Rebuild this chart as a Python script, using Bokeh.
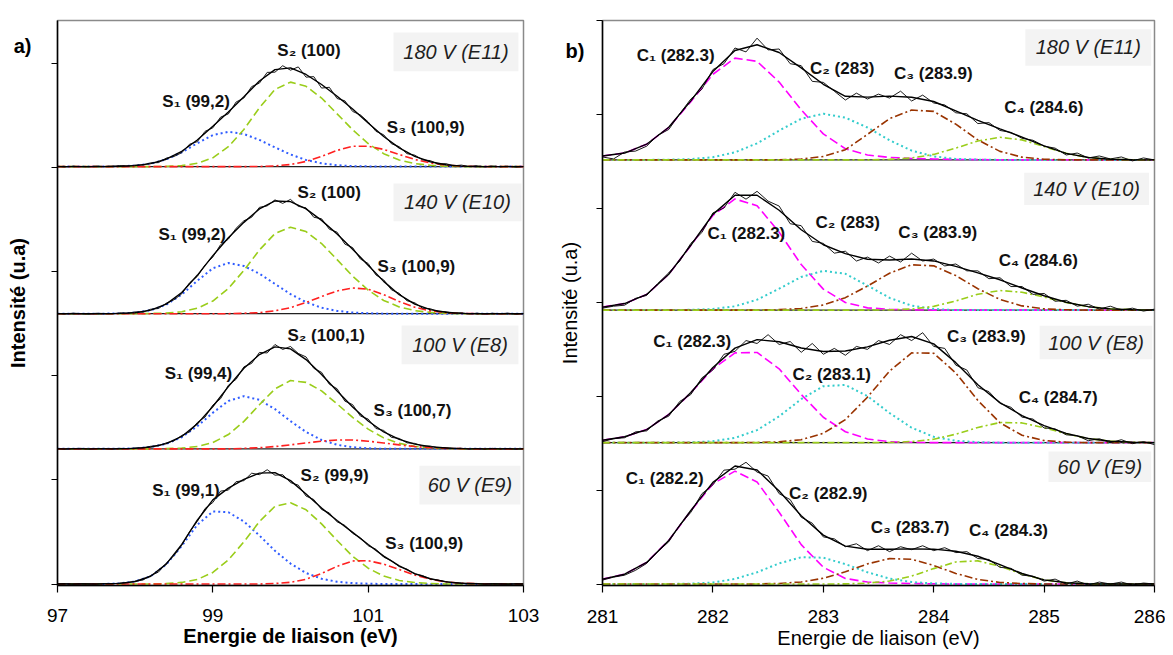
from bokeh.plotting import figure
from bokeh.layouts import row
from bokeh.models import Range1d, FixedTicker, Span
from bokeh.core.properties import value
from bokeh.embed import file_html
from bokeh.resources import INLINE

FONT_NAME = "Liberation Sans"
FONT = value(FONT_NAME)

# ======================= DATA : panel a) S 2p =======================
s_energy = [round(97.0 + 0.2 * i, 1) for i in range(31)]        # component / fit grid (eV)
s_energy_meas = [round(97.0 + 0.1 * i, 1) for i in range(61)]   # measured spectrum grid (eV)
s_samples = ["180 V (E11)", "140 V (E10)", "100 V (E8)", "60 V (E9)"]
s_peak_labels = [
    ["S₁ (99,2)", "S₂ (100)", "S₃ (100,9)"],
    ["S₁ (99,2)", "S₂ (100)", "S₃ (100,9)"],
    ["S₁ (99,4)", "S₂ (100,1)", "S₃ (100,7)"],
    ["S₁ (99,1)", "S₂ (99,9)", "S₃ (100,9)"],
]

s1_E11 = [0, 0, 0, 0, 0.3, 1, 3, 7.2, 14.4, 23.5,
          31.7, 35, 32.8, 26.8, 19.3, 12.2, 6.7, 3.3, 1.4, 0.5,
          0.2, 0, 0, 0, 0, 0, 0, 0, 0, 0, 0]
s2_E11 = [0, 0, 0, 0, 0, 0, 0, 0.2, 1, 3.3,
          8.8, 20, 37.4, 59.2, 77.6, 85, 80.8, 69, 53.1, 37,
          23.2, 13, 6.6, 3.1, 1.3, 0.4, 0, 0, 0, 0, 0]
s3_E11 = [0, 0, 0, 0, 0, 0, 0, 0, 0, 0,
          0, 0, 0, 0.1, 0.7, 2.1, 5.2, 10.3, 16.3, 20.4,
          20.5, 17.3, 12.2, 7.2, 3.6, 1.5, 0.5, 0.1, 0, 0, 0]
meas_S_E11 = [0.2, -0.3, 0.4, 0, -0.2, 0.5, 0.1, 0.3, 0.9, 0.4,
              1.5, 1.6, 3.8, 4, 8.5, 10.2, 14, 22.5, 25.1, 35.5,
              39, 49.8, 53, 65, 69, 80.5, 84, 94.8, 95, 101.5,
              97, 100.3, 90, 90.5, 79, 79.8, 68.5, 66.2, 55.5, 52,
              45, 35.5, 32, 23, 20, 13, 11.5, 6.8, 6, 2.5,
              3, 0.8, 1.5, 0, 0.8, -0.3, 0.6, -0.2, 0.4, -0.5,
              0.1]

s1_E10 = [0, 0, 0, 0, 0.3, 1, 3.4, 9, 19.3, 33.1,
          45.7, 51, 48, 40.2, 29.9, 19.7, 11.6, 6, 2.8, 1.1,
          0.4, 0, 0, 0, 0, 0, 0, 0, 0, 0, 0]
s2_E10 = [0, 0, 0, 0, 0, 0, 0.2, 0.6, 2, 5.5,
          12.7, 25.4, 43.5, 64.1, 80.6, 87, 82.6, 70.6, 54.4, 37.8,
          23.8, 13.3, 6.8, 3.1, 1.3, 0.4, 0, 0, 0, 0, 0]
s3_E10 = [0, 0, 0, 0, 0, 0, 0, 0, 0, 0,
          0, 0, 0.4, 1.1, 2.9, 6.1, 11.2, 17.3, 22.9, 25.9,
          24.6, 19.2, 12.3, 6.5, 2.8, 1, 0.3, 0, 0, 0, 0]
meas_S_E10 = [0.3, -0.2, 0.5, 0.1, -0.3, 0.4, 0.2, -0.1, 0.8, 0.3,
              1.8, 1.5, 4.5, 5.2, 10.5, 14, 20, 31, 37.5, 49,
              57, 69.5, 75, 86, 93.5, 97, 107, 108.5, 114.5, 111,
              115, 108, 106.5, 97, 95.5, 85, 82, 70, 66.5, 55,
              50.5, 39, 34, 24, 20.5, 13, 11, 5.5, 5, 2,
              2, 0.3, 1, -0.2, 0.5, -0.3, 0.4, 0, 0.5, -0.4,
              0.2]

s1_E8 = [0, 0, 0, 0, 0.1, 0.5, 1.8, 5, 11.7, 22.8,
         36.3, 48.2, 53, 49.3, 40, 27.9, 17, 8.9, 4.1, 1.7,
         0.5, 0.1, 0, 0, 0, 0, 0, 0, 0, 0, 0]
s2_E8 = [0, 0, 0, 0, 0, 0, 0, 0.2, 0.8, 2.3,
         6.3, 14.4, 27.6, 44.4, 60.3, 68.7, 66.9, 58.3, 45.2, 31.6,
         19.8, 11, 5.5, 2.5, 1, 0.3, 0, 0, 0, 0, 0]
s3_E8 = [0, 0, 0, 0, 0, 0, 0, 0, 0, 0,
         0, 0, 0.5, 1.2, 2.3, 4, 5.9, 7.7, 8.9, 8.9,
         7.7, 5.9, 4, 2.3, 1.2, 0.5, 0.2, 0, 0, 0, 0]
meas_S_E8 = [0.2, -0.3, 0.3, 0.5, -0.2, 0.2, 0.4, -0.1, 0.5, 0.2,
             1, 0.8, 2.6, 3, 6, 8, 13.5, 17, 26.5, 32,
             44, 50.5, 64, 70, 82.5, 86, 97, 96.5, 105, 100,
             103, 96, 92.5, 81, 77, 65, 60.5, 48, 44.5, 33,
             30, 20.5, 18.5, 11.5, 10.5, 6, 5.5, 2.8, 2.8, 1,
             1.2, 0.2, 0.6, -0.2, 0.4, -0.3, 0.5, 0, 0.3, -0.3,
             0.1]

s1_E9 = [0, 0, 0, 0.1, 0.6, 2.5, 7.8, 19.6, 38.3, 59.6,
         73, 72.2, 62.9, 48.8, 33.4, 20.6, 11.1, 5.3, 2.3, 0.9,
         0.3, 0, 0, 0, 0, 0, 0, 0, 0, 0, 0]
s2_E9 = [0, 0, 0, 0, 0, 0, 0, 0.4, 1.6, 4.6,
         11.6, 24.3, 42.4, 62.8, 78.2, 81.7, 74.7, 60.5, 43.8, 27.9,
         15.9, 8, 3.6, 1.5, 0.5, 0, 0, 0, 0, 0, 0]
s3_E9 = [0, 0, 0, 0, 0, 0, 0, 0, 0, 0,
         0, 0, 0, 0, 0.5, 1.7, 4.8, 10.6, 17.8, 23.2,
         23.5, 20, 14.6, 9, 4.8, 2.1, 0.8, 0.3, 0, 0, 0]
meas_S_E9 = [0.1, 0.4, -0.2, 0.3, 0.1, -0.2, 0.5, 0.2, 0.9, 1.2,
             2.8, 4, 8.5, 12, 21, 28.5, 39, 52.5, 63, 76,
             82, 93.5, 94.5, 103, 104, 111.5, 110, 115, 109.5, 110,
             102, 99.5, 88.5, 85, 75, 71.5, 62.5, 59, 51, 46.5,
             38.5, 35, 27, 23.5, 17.5, 15, 10, 8.5, 5, 4,
             2.5, 1.2, 1, 0.3, 0.6, -0.2, 0.4, 0.1, -0.3, 0.3,
             0]

s_components = [[s1_E11, s2_E11, s3_E11], [s1_E10, s2_E10, s3_E10],
                [s1_E8, s2_E8, s3_E8], [s1_E9, s2_E9, s3_E9]]
s_measured = [meas_S_E11, meas_S_E10, meas_S_E8, meas_S_E9]

# ======================= DATA : panel b) C 1s =======================
c_energy = [round(281.0 + 0.2 * i, 1) for i in range(26)]
c_energy_meas = [round(281.0 + 0.1 * i, 1) for i in range(51)]
c_samples = ["180 V (E11)", "140 V (E10)", "100 V (E8)", "60 V (E9)"]
c_peak_labels = [
    ["C₁ (282.3)", "C₂ (283)", "C₃ (283.9)", "C₄ (284.6)"],
    ["C₁ (282.3)", "C₂ (283)", "C₃ (283.9)", "C₄ (284.6)"],
    ["C₁ (282.3)", "C₂ (283.1)", "C₃ (283.9)", "C₄ (284.7)"],
    ["C₁ (282.2)", "C₂ (282.9)", "C₃ (283.7)", "C₄ (284.3)"],
]

c1_E11 = [4, 7, 16, 33, 59.3, 87.2, 103.7, 100.4, 79.3, 51,
          26.5, 11.4, 5, 2.5, 1.5, 1, 0.5, 0.3, 0, 0,
          0, 0, 0, 0, 0, 0]
c2_E11 = [0, 0, 0, 0.2, 0.8, 2.8, 7.7, 16.9, 29.9, 41.9,
          47, 43, 33, 20, 9.5, 3.5, 1, 0.3, 0, 0,
          0, 0, 0, 0, 0, 0]
c3_E11 = [0, 0, 0, 0, 0, 0, 0, 0, 0.2, 0.9,
          3.5, 10.4, 26, 42, 50.8, 49.4, 36.4, 20.4, 8.7, 2.8,
          0.7, 0, 0, 0, 0, 0]
c4_E11 = [0, 0, 0, 0, 0, 0, 0, 0, 0, 0,
          0, 0, 0, 0.5, 2, 5.6, 12, 19.3, 23, 20.4,
          13.6, 6.7, 2.5, 0.7, 0.2, 0]
meas_C_E11 = [3, 1, 8, 9, 14, 25, 31, 47, 62, 72,
              92, 98, 114, 110, 124, 112, 113, 98, 96, 80,
              79, 70, 61, 68, 62, 67, 63, 70, 60, 66,
              58, 56, 48, 47, 37, 38, 30, 28, 22, 20,
              14, 12, 5, 7, 2, 4, 1, 3, -1, 2,
              0]

c1_E10 = [3.1, 6.7, 16, 36.5, 65.8, 96.4, 113.2, 106.4, 79.4, 46.4,
          21.4, 7.8, 2.3, 0.8, 0.3, 0, 0, 0, 0, 0,
          0, 0, 0, 0, 0, 0]
c2_E10 = [0, 0, 0, 0, 0.3, 1.1, 3.9, 10.6, 21.8, 33.8,
          40, 37, 25, 12.5, 4.5, 1.2, 0, 0, 0, 0,
          0, 0, 0, 0, 0, 0]
c3_E10 = [0, 0, 0, 0, 0, 0, 0, 0, 0.5, 1.7,
          5.2, 12.7, 24.5, 37.6, 46.2, 45.1, 35.2, 21.8, 10.9, 4.3,
          1.3, 0.3, 0, 0, 0, 0]
c4_E10 = [0, 0, 0, 0, 0, 0, 0, 0, 0, 0,
          0, 0, 0, 0.2, 1.1, 3.8, 9.3, 16.2, 20, 18.2,
          13.3, 7.7, 3.5, 1.3, 0.4, 0]
meas_C_E10 = [2, 4, 5, 12, 15, 27, 38, 50, 68, 79,
              99, 104, 120, 113, 121, 111, 106, 88, 86, 70,
              68, 58, 60, 50, 54, 48, 55, 49, 58, 50,
              52, 45, 47, 40, 40, 32, 33, 24, 24, 16,
              17, 9, 10, 4, 6, 1, 4, 0, 2, -1,
              1]

c1_E8 = [2.5, 6, 13.3, 28.7, 50.8, 75.2, 91.4, 91.9, 75.2, 49.1,
         25.9, 11.1, 3.8, 1, 0.4, 0, 0, 0, 0, 0,
         0, 0, 0, 0, 0, 0]
c2_E8 = [0, 0, 0, 0, 0.3, 1.4, 4.9, 12.8, 26.8, 44.3,
         57.5, 58.8, 47.4, 30.2, 15.2, 6, 1.9, 0.5, 0, 0,
         0, 0, 0, 0, 0, 0]
c3_E8 = [0, 0, 0, 0, 0, 0, 0, 0.2, 0.8, 3,
         9.5, 23.5, 46.3, 72.9, 91.4, 91.1, 71, 43, 20.3, 7.5,
         2.2, 0.5, 0, 0, 0, 0]
c4_E8 = [0, 0, 0, 0, 0, 0, 0, 0, 0, 0,
         0, 0, 0, 0.2, 1.1, 3.5, 8.6, 15.5, 20.5, 20.1,
         15.2, 9, 4.2, 1.5, 0.4, 0]
meas_C_E8 = [1, 4, 5, 11, 12, 22, 27, 42, 49, 66,
             74, 90, 93, 104, 101, 110, 100, 103, 92, 101,
             90, 96, 89, 98, 95, 104, 100, 110, 104, 112,
             98, 96, 79, 74, 56, 52, 40, 36, 26, 24,
             15, 14, 8, 7, 2, 4, 0, 3, -1, 1,
             -2]

c1_E9 = [5, 10, 22, 44.4, 74.5, 102, 115, 104, 73.1, 40.1,
         17.1, 5.7, 2, 1, 0.5, 0.3, 0, 0, 0, 0,
         0, 0, 0, 0, 0, 0]
c2_E9 = [0, 0, 0, 0, 0.4, 1.6, 5.2, 12, 21, 27.3,
         26.8, 20.3, 12, 5.5, 2, 0.6, 0.1, 0, 0, 0,
         0, 0, 0, 0, 0, 0]
c3_E9 = [0, 0, 0, 0, 0, 0, 0, 0.1, 0.6, 2.1,
         5.9, 12.4, 20.5, 25.9, 25.2, 18.9, 10.8, 4.7, 1.6, 0.5,
         0, 0, 0, 0, 0, 0]
c4_E9 = [0, 0, 0, 0, 0, 0, 0, 0, 0, 0,
         0, 0.2, 0.9, 3.1, 8.1, 15.7, 22.5, 23.6, 18.1, 10.2,
         4.2, 1.3, 0.3, 0, 0, 0]
meas_C_E9 = [4, 7, 9, 14, 21, 33, 43, 60, 73, 92,
             101, 116, 117, 124, 114, 110, 92, 86, 68, 62,
             48, 46, 38, 41, 34, 39, 33, 38, 35, 39,
             34, 37, 32, 33, 26, 25, 17, 16, 9, 8,
             3, 5, 0, 3, -1, 2, 0, 2, -1, 1,
             0]

c_components = [[c1_E11, c2_E11, c3_E11, c4_E11], [c1_E10, c2_E10, c3_E10, c4_E10],
                [c1_E8, c2_E8, c3_E8, c4_E8], [c1_E9, c2_E9, c3_E9, c4_E9]]
c_measured = [meas_C_E11, meas_C_E10, meas_C_E8, meas_C_E9]

x_ticks_a = [97, 99, 101, 103]
x_ticks_b = [281, 282, 283, 284, 285, 286]

# ======================= LAYOUT / STYLE =======================
S_BASE = [420, 272, 136, 0]
S_TOP = 567
S_YTICKS = [0, 104.8, 209.6, 314.4, 419.2, 524]
S_TAG_Y = 541
S_LABEL_XY = [[(98.35, 486), (99.83, 537), (101.24, 459)],
              [(98.30, 352), (100.09, 394), (101.12, 319)],
              [(98.38, 212), (99.96, 250), (101.07, 175)],
              [(98.22, 94), (100.13, 109), (101.22, 41)]]
S_BOX = [(101.326, 102.935, 516, 555), (101.326, 102.974, 365, 403),
         (101.43, 102.935, 221, 260), (101.66, 102.96, 80, 119)]
S_STYLE = [dict(line_color="#2f5cff", line_width=2.0, line_dash="2 3"),
           dict(line_color="#9acd1a", line_width=1.6, line_dash="8 4"),
           dict(line_color="#ff2020", line_width=1.6, line_dash="8 3 2 3")]

C_BASE = [432, 279, 144, 0]
C_TOP = 574
C_YTICKS = [0, 95.7, 191.3, 287, 382.7, 478.3, 574]
C_TAG_Y = 543
C_LABEL_XY = [[(281.31, 538), (282.88, 525), (283.64, 520), (284.64, 485)],
              [(281.95, 357), (282.93, 368), (283.68, 358), (284.59, 330)],
              [(281.46, 247), (282.72, 213), (284.12, 252), (284.77, 190)],
              [(281.21, 107), (282.69, 92), (283.43, 58), (284.32, 55)]]
C_BOX = [(284.83, 285.97, 528, 565), (284.82, 285.95, 386, 419),
         (284.96, 285.98, 229, 263), (285.04, 285.97, 104, 135)]
C_STYLE = [dict(line_color="#ff00ff", line_width=1.6, line_dash="9 4"),
           dict(line_color="#33cccc", line_width=2.0, line_dash="2 3"),
           dict(line_color="#993300", line_width=1.6, line_dash="8 3 2 3"),
           dict(line_color="#9acd1a", line_width=1.6, line_dash="7 3 2 3")]


def make_fig(xr, yr, width, height, mb_left, mb_right, mb_top, mb_bottom,
             yticks, tag_y, tag, tag_standoff, xticks, bold, xl_standoff, xa_standoff):
    p = figure(width=width, height=height, x_range=Range1d(*xr), y_range=Range1d(*yr),
               output_backend="svg", toolbar_location=None,
               min_border_left=mb_left, min_border_right=mb_right,
               min_border_top=mb_top, min_border_bottom=mb_bottom)
    p.xgrid.grid_line_color = None
    p.ygrid.grid_line_color = None
    p.outline_line_color = "#8a8a8a"
    p.outline_line_width = 1.5
    p.background_fill_color = "white"
    p.border_fill_color = "white"
    style = "bold" if bold else "normal"
    for ax in (p.xaxis[0], p.yaxis[0]):
        ax.axis_line_color = "black"
        ax.axis_line_width = 1.5
        ax.axis_label_text_font = FONT_NAME
        ax.axis_label_text_font_size = "20px"
        ax.axis_label_text_font_style = style
        ax.axis_label_text_color = "black"
        ax.major_label_text_font = FONT_NAME
        ax.major_label_text_color = "black"
    # x axis
    xa = p.xaxis[0]
    xa.ticker = FixedTicker(ticks=xticks)
    xa.major_tick_line_color = "black"
    xa.major_tick_line_width = 1.2
    xa.major_tick_in = 0
    xa.major_tick_out = 7
    xa.minor_tick_line_color = None
    xa.major_label_text_font_size = "19px"
    xa.major_label_standoff = xl_standoff
    xa.axis_label = "Energie de liaison (eV)"
    xa.axis_label_standoff = xa_standoff
    # y axis : plain ticks drawn as minor ticks, the single labelled tick carries the panel tag
    ya = p.yaxis[0]
    ya.ticker = FixedTicker(ticks=[tag_y], minor_ticks=yticks)
    ya.major_tick_line_color = None
    ya.major_tick_in = 0
    ya.major_tick_out = 6
    ya.minor_tick_line_color = "black"
    ya.minor_tick_line_width = 1.2
    ya.minor_tick_in = 0
    ya.minor_tick_out = 6
    ya.major_label_overrides = {tag_y: tag}
    ya.major_label_text_font_size = "20px"
    ya.major_label_text_font_style = "bold"
    ya.major_label_standoff = tag_standoff
    ya.axis_label = "Intensité (u.a)"
    return p


def draw(p, x, xm, comps_all, meas_all, bases, styles, labels, label_xy, boxes, samples):
    for b in bases[:-1]:
        p.add_layout(Span(location=b, dimension="width", line_color="#222222",
                          line_width=1.2, level="underlay"))
    for k in range(4):
        base = bases[k]
        comps = comps_all[k]
        env = [sum(c[i] for c in comps) for i in range(len(x))]
        l, r, bo, t = boxes[k]
        p.quad(left=[l], right=[r], bottom=[bo], top=[t],
               fill_color="#f3f3f3", line_color=None)
        p.text(x=[(l + r) / 2], y=[(bo + t) / 2], text=[samples[k]],
               text_font=FONT, text_font_style="italic", text_font_size="20px",
               text_align="center", text_baseline="middle", text_color="#1e1e1e")
        for c, st in zip(comps, styles):
            p.line(x, [base + v for v in c], **st)
        p.line(xm, [base + v for v in meas_all[k]], line_color="black", line_width=0.9)
        p.line(x, [base + v for v in env], line_color="black", line_width=1.4)
        p.text(x=[xy[0] for xy in label_xy[k]], y=[xy[1] for xy in label_xy[k]],
               text=labels[k], text_font=FONT, text_font_style="bold",
               text_font_size="17px", text_align="left", text_baseline="middle",
               text_color="#111111")


# ---- panel a ----
pa = make_fig((97, 103), (-1.5, S_TOP), 545, 655, 57, 22, 20, 68,
              S_YTICKS, S_TAG_Y, "a)", 20, x_ticks_a, True, 16, 0)
pa.yaxis.axis_label_standoff = -18
draw(pa, s_energy, s_energy_meas, s_components, s_measured, S_BASE, S_STYLE,
     s_peak_labels, S_LABEL_XY, S_BOX, s_samples)

# ---- panel b ----
pb = make_fig((281, 286), (-1.5, C_TOP), 620, 655, 57, 11, 11, 70,
              C_YTICKS, C_TAG_Y, "b)", 12, x_ticks_b, False, 17, 1)
pb.yaxis.axis_label_standoff = -18
draw(pb, c_energy, c_energy_meas, c_components, c_measured, C_BASE, C_STYLE,
     c_peak_labels, C_LABEL_XY, C_BOX, c_samples)

layout = row(pa, pb)
open("out.html", "w").write(file_html(layout, INLINE))
